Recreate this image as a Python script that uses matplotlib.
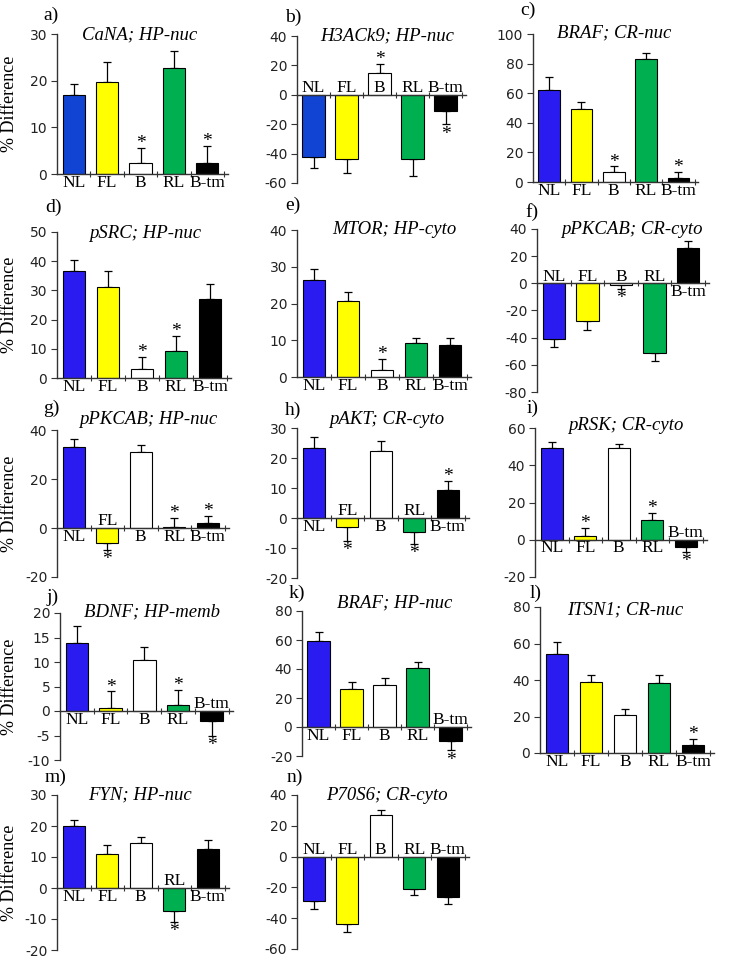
import matplotlib
matplotlib.use('Agg')
import matplotlib.pyplot as plt
import numpy as np

plt.rcParams['axes.unicode_minus'] = False

W, H = 732, 959
categories = ['NL', 'FL', 'B', 'RL', 'B-tm']

# ---- data (mean % difference, error bar length, significance) ----
a_mean = [17.0, 19.7, 2.3, 22.8, 2.3]
a_err = [2.2, 4.2, 3.3, 3.5, 3.7]
a_star = [0, 0, 1, 0, 1]

b_mean = [-42.0, -44.0, 15.0, -44.0, -11.0]
b_err = [8.0, 9.5, 6.0, 11.0, 9.0]
b_star = [0, 0, 1, 0, 1]

c_mean = [62.0, 49.0, 7.0, 83.0, 3.0]
c_err = [9.0, 5.0, 3.5, 4.0, 4.0]
c_star = [0, 0, 1, 0, 1]

d_mean = [36.8, 31.0, 3.0, 9.2, 27.0]
d_err = [3.7, 5.8, 4.3, 5.1, 5.3]
d_star = [0, 0, 1, 1, 0]

e_mean = [26.5, 20.8, 2.0, 9.2, 8.8]
e_err = [3.0, 2.2, 3.0, 1.4, 1.8]
e_star = [0, 0, 1, 0, 0]

f_mean = [-41.0, -28.0, -1.0, -51.0, 26.0]
f_err = [6.0, 6.0, 3.0, 6.0, 5.0]
f_star = [0, 0, 1, 0, 0]

g_mean = [33.0, -6.0, 31.0, 0.5, 2.0]
g_err = [3.5, 3.0, 3.0, 3.5, 3.0]
g_star = [0, 1, 0, 1, 1]

h_mean = [23.5, -3.0, 22.5, -4.5, 9.5]
h_err = [3.5, 4.5, 3.3, 4.0, 3.0]
h_star = [0, 1, 0, 1, 1]

i_mean = [49.0, 2.0, 49.0, 10.5, -4.0]
i_err = [3.5, 4.5, 2.5, 4.0, 2.5]
i_star = [0, 1, 0, 1, 1]

j_mean = [13.8, 0.7, 10.5, 1.2, -2.0]
j_err = [3.5, 3.3, 2.5, 3.1, 3.0]
j_star = [0, 1, 0, 1, 1]

k_mean = [59.0, 26.5, 29.0, 40.5, -9.5]
k_err = [6.5, 4.5, 4.5, 4.0, 6.5]
k_star = [0, 0, 0, 0, 1]

l_mean = [54.0, 39.0, 21.0, 38.5, 4.5]
l_err = [7.0, 3.5, 3.0, 4.0, 3.0]
l_star = [0, 0, 0, 0, 1]

m_mean = [20.0, 11.0, 14.5, -7.5, 12.5]
m_err = [2.0, 3.0, 2.0, 3.5, 3.0]
m_star = [0, 0, 0, 1, 0]

n_mean = [-29.0, -44.0, 27.0, -21.0, -26.0]
n_err = [5.0, 5.0, 3.5, 4.0, 5.0]
n_star = [0, 0, 0, 0, 0]

panel_titles = ['CaNA; HP-nuc', 'H3ACk9; HP-nuc', 'BRAF; CR-nuc', 'pSRC; HP-nuc',
                'MTOR; HP-cyto', 'pPKCAB; CR-cyto', 'pPKCAB; HP-nuc', 'pAKT; CR-cyto',
                'pRSK; CR-cyto', 'BDNF; HP-memb', 'BRAF; HP-nuc', 'ITSN1; CR-nuc',
                'FYN; HP-nuc', 'P70S6; CR-cyto']

# ---- layout (pixel positions) ----
U, D = True, False
BLUE1 = '#1244d4'
BLUE2 = '#2a1cf0'
panels = [
    ('a)', a_mean, a_err, a_star, [D]*5, (0, 30), 10, 57, 34, 174, 33.4, (43, 15), (140, 35), True, BLUE1),
    ('b)', b_mean, b_err, b_star, [U]*5, (-60, 40), 20, 297, 36, 183, 33.0, (285, 17), (387, 36), False, BLUE1),
    ('c)', c_mean, c_err, c_star, [D]*5, (0, 100), 20, 533, 34, 182, 32.3, (520, 10), (614, 33), False, BLUE2),
    ('d)', d_mean, d_err, d_star, [D]*5, (0, 50), 10, 57, 232, 378, 34.0, (45, 207), (145, 233), True, BLUE2),
    ('e)', e_mean, e_err, e_star, [D]*5, (0, 40), 10, 297, 230, 377, 34.0, (285, 205), (394, 230), False, BLUE2),
    ('f)', f_mean, f_err, f_star, [U, U, U, U, D], (-80, 40), 20, 537, 229, 392, 33.6, (525, 212), (632, 229), False, BLUE2),
    ('g)', g_mean, g_err, g_star, [D, U, D, D, D], (-20, 40), 20, 57, 430, 577, 33.5, (43, 408), (148, 420), True, BLUE2),
    ('h)', h_mean, h_err, h_star, [D, U, D, U, D], (-20, 30), 10, 297, 428, 578, 33.5, (285, 410), (387, 420), False, BLUE2),
    ('i)', i_mean, i_err, i_star, [D, D, D, D, U], (-20, 60), 20, 535, 428, 577, 33.5, (527, 408), (626, 425), False, BLUE2),
    ('j)', j_mean, j_err, j_star, [D, D, D, D, U], (-10, 20), 5, 60, 613, 760, 33.7, (47, 597), (152, 612), True, BLUE2),
    ('k)', k_mean, k_err, k_star, [D, D, D, D, U], (-20, 80), 20, 302, 611, 756, 33.0, (289, 593), (395, 603), False, BLUE2),
    ('l)', l_mean, l_err, l_star, [D]*5, (0, 80), 20, 540, 607, 753, 34.0, (530, 593), (625, 610), False, BLUE2),
    ('m)', m_mean, m_err, m_star, [D, D, D, U, D], (-20, 30), 10, 57, 795, 950, 33.5, (45, 777), (140, 795), True, BLUE2),
    ('n)', n_mean, n_err, n_star, [U]*5, (-60, 40), 20, 297, 795, 949, 33.5, (287, 777), (387, 795), False, BLUE2),
]

SERIF = 'Liberation Serif'
SANS = 'DejaVu Sans'

fig = plt.figure(figsize=(W / 100, H / 100), dpi=100)

for idx, (letter, means, errs, stars, lab_up, ylim, ystep, left, top, bottom,
          spacing, lpos, tpos, has_ylabel, nl_col) in enumerate(panels):
    x0, x1 = -0.5, 4.62
    width = (x1 - x0) * spacing
    ax = fig.add_axes([left / W, 1 - bottom / H, width / W, (bottom - top) / H])
    ax.set_xlim(x0, x1)
    ax.set_ylim(*ylim)
    x = np.arange(len(categories))
    colors = [nl_col, '#ffff00', '#ffffff', '#00b050', '#000000']
    ax.bar(x, means, width=0.67, color=colors, edgecolor='black', linewidth=0.8, zorder=2)
    for xi, mv, ev, st, up in zip(x, means, errs, stars, lab_up):
        if mv >= 0:
            yerr = [[0], [ev]]
            end = mv + ev
        else:
            yerr = [[ev], [0]]
            end = mv - ev
        ax.errorbar(xi, mv, yerr=yerr, fmt='none', ecolor='black', elinewidth=0.9,
                    capsize=3, capthick=0.9, zorder=1)
        if st:
            if mv >= 0:
                ax.annotate('*', (xi, end), xytext=(0, -3), textcoords='offset points',
                            ha='center', va='bottom', fontsize=14, family=SERIF,
                            zorder=4, annotation_clip=False)
            else:
                ax.annotate('*', (xi, end), xytext=(0, -1), textcoords='offset points',
                            ha='center', va='top', fontsize=14, family=SERIF,
                            zorder=4, annotation_clip=False)
        if up:
            ax.annotate(categories[xi], (xi, 0), xytext=(0, -1), textcoords='offset points',
                        ha='center', va='bottom', fontsize=12.5, family=SERIF, zorder=5,
                        annotation_clip=False)
        else:
            ax.annotate(categories[xi], (xi, 0), xytext=(0, -0.5), textcoords='offset points',
                        ha='center', va='top', fontsize=12.5, family=SERIF, zorder=5,
                        annotation_clip=False)
    for s in ['top', 'right']:
        ax.spines[s].set_visible(False)
    ax.spines['bottom'].set_position(('data', 0))
    ax.spines['left'].set_color('#333333')
    ax.spines['bottom'].set_color('#333333')
    ax.spines['left'].set_linewidth(1.0)
    ax.spines['bottom'].set_linewidth(1.0)
    ax.set_xticks([0.5, 1.5, 2.5, 3.5, 4.5])
    ax.set_xticklabels([])
    ax.tick_params(axis='x', direction='inout', length=5, width=0.8, color='#333333')
    ax.set_yticks(np.arange(ylim[0], ylim[1] + 0.1, ystep))
    ax.tick_params(axis='y', direction='out', length=4, width=0.8, color='#333333',
                   labelsize=10, labelcolor='#222222', pad=3)
    for t in ax.get_yticklabels():
        t.set_family(SANS)
    ax.patch.set_alpha(0)

    fig.text(lpos[0] / W, 1 - lpos[1] / H, letter, ha='left', va='center',
             fontsize=14, family=SERIF)
    fig.text(tpos[0] / W, 1 - tpos[1] / H, panel_titles[idx], ha='center', va='center',
             fontsize=13.5, family=SERIF, style='italic')
    if has_ylabel:
        fig.text(10 / W, 1 - ((top + bottom) / 2) / H, '% Difference', rotation=90,
                 ha='center', va='center', fontsize=13, family=SERIF)

fig.savefig('out.png', dpi=100)
